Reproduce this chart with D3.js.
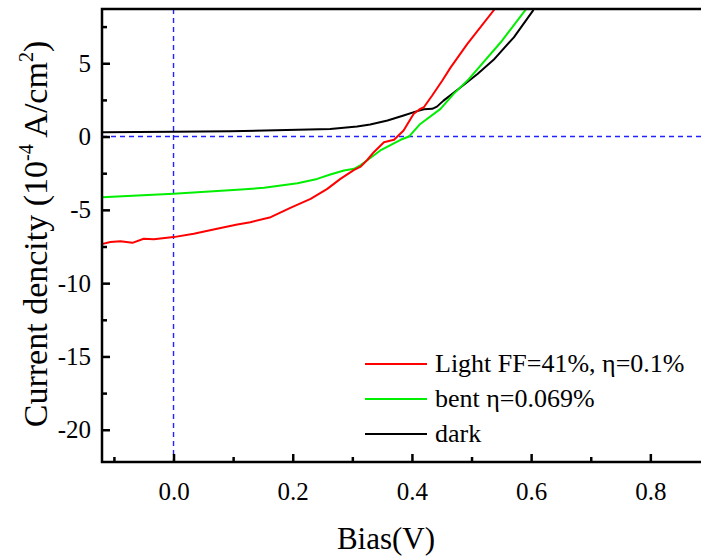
<!DOCTYPE html>
<html>
<head>
<meta charset="utf-8">
<script src="https://cdn.jsdelivr.net/npm/d3@7"></script>
<style>
  html, body { margin: 0; padding: 0; background: #fff; }
  svg { display: block; }
  svg text { font-family: "Liberation Serif", "Times New Roman", serif; fill: #000; }
</style>
</head>
<body>
<svg id="chart" width="701" height="558"></svg>
<script>
// J–V curves: bias (V) vs current density (1e-4 A/cm^2)
const lightV = [-0.123,-0.106,-0.089,-0.069,-0.05,-0.033,0,0.034,0.073,0.107,0.129,0.163,0.196,0.23,0.258,0.28,0.303,0.314,0.325,0.336,0.353,0.37,0.386,0.403,0.414,0.42,0.434,0.451,0.465,0.493,0.539];
const lightJ = [-7.36,-7.2,-7.14,-7.25,-6.97,-7.0,-6.86,-6.63,-6.29,-6.0,-5.84,-5.5,-4.86,-4.25,-3.57,-2.89,-2.27,-2.05,-1.6,-1.07,-0.39,-0.22,0.41,1.55,1.89,2.0,2.8,3.82,4.72,6.32,8.7];

const bentV = [-0.12,0,0.107,0.152,0.208,0.241,0.263,0.286,0.303,0.314,0.325,0.347,0.381,0.395,0.414,0.448,0.47,0.495,0.51,0.549,0.593];
const bentJ = [-4.14,-3.91,-3.63,-3.5,-3.18,-2.89,-2.59,-2.32,-2.2,-1.95,-1.62,-0.95,-0.22,0.0,0.86,1.89,2.91,3.9,4.6,6.43,8.77];

const darkV = [-0.12,0,0.096,0.208,0.263,0.308,0.33,0.359,0.386,0.406,0.42,0.434,0.442,0.453,0.476,0.51,0.537,0.571,0.604];
const darkJ = [0.29,0.32,0.36,0.46,0.52,0.68,0.82,1.09,1.43,1.7,1.86,1.89,2.04,2.45,3.18,4.27,5.23,6.77,8.64];

const seriesNames = ["Light FF=41%, \u03b7=0.1%", "bent \u03b7=0.069%", "dark"];
const seriesColors = ["#ff0000", "#00ee00", "#000000"];

const xMajor = [0.0, 0.2, 0.4, 0.6, 0.8];
const xMinor = [-0.1, 0.1, 0.3, 0.5, 0.7];
const yMajor = [-20, -15, -10, -5, 0, 5];
const yMinor = [-17.5, -12.5, -7.5, -2.5, 2.5, 7.5];

const L = 102, R = 701, T = 9, B = 462;
const FONT = "Liberation Serif";
const svg = d3.select("#chart");

const x = d3.scaleLinear().domain([-0.12, 0.885]).range([L, R]);
const y = d3.scaleLinear().domain([-22.2, 8.7]).range([B, T]);

svg.append("defs").append("clipPath").attr("id", "plotClip")
  .append("rect").attr("x", L).attr("y", T).attr("width", R - L).attr("height", B - T);

// reference lines at zero bias / zero current
svg.append("line")
  .attr("x1", L).attr("x2", R).attr("y1", y(0)).attr("y2", y(0))
  .attr("stroke", "#2222ff").attr("stroke-width", 1.4).attr("stroke-dasharray", "5,4");
svg.append("line")
  .attr("x1", x(0)).attr("x2", x(0)).attr("y1", T).attr("y2", B)
  .attr("stroke", "#2222ff").attr("stroke-width", 1.4).attr("stroke-dasharray", "5,4");

// curves
const line = d3.line().x(d => x(d[0])).y(d => y(d[1])).curve(d3.curveLinear);
const seriesData = [
  d3.zip(darkV, darkJ),
  d3.zip(bentV, bentJ),
  d3.zip(lightV, lightJ)
];
const drawColors = [seriesColors[2], seriesColors[1], seriesColors[0]];
const g = svg.append("g").attr("clip-path", "url(#plotClip)");
seriesData.forEach((d, i) => {
  g.append("path").datum(d).attr("d", line)
    .attr("fill", "none").attr("stroke", drawColors[i])
    .attr("stroke-width", 2).attr("stroke-linejoin", "round");
});

// axes (ticks pointing inward); plain hyphen for negative labels
const xAxis = d3.axisBottom(x).tickValues(xMajor).tickSize(-8).tickPadding(20)
  .tickFormat(d => d.toFixed(1));
const gx = svg.append("g").attr("transform", `translate(0,${B})`).call(xAxis)
  .attr("font-family", FONT).attr("font-size", 25);
gx.select(".domain").remove();
gx.selectAll(".tick line").attr("stroke", "#000").attr("stroke-width", 2.5);

const xAxisMinor = d3.axisBottom(x).tickValues(xMinor).tickSize(-5).tickFormat("");
const gxm = svg.append("g").attr("transform", `translate(0,${B})`).call(xAxisMinor);
gxm.select(".domain").remove();
gxm.selectAll(".tick line").attr("stroke", "#000").attr("stroke-width", 2.5);

const yAxis = d3.axisLeft(y).tickValues(yMajor).tickSize(-8).tickPadding(11)
  .tickFormat(d => String(d));
const gy = svg.append("g").attr("transform", `translate(${L},0)`).call(yAxis)
  .attr("font-family", FONT).attr("font-size", 25);
gy.select(".domain").remove();
gy.selectAll(".tick line").attr("stroke", "#000").attr("stroke-width", 2.5);

const yAxisMinor = d3.axisLeft(y).tickValues(yMinor).tickSize(-5).tickFormat("");
const gym = svg.append("g").attr("transform", `translate(${L},0)`).call(yAxisMinor);
gym.select(".domain").remove();
gym.selectAll(".tick line").attr("stroke", "#000").attr("stroke-width", 2.5);

// frame
svg.append("path")
  .attr("d", `M${R},${T}H${L}V${B}H${R}`)
  .attr("fill", "none").attr("stroke", "#000").attr("stroke-width", 2.5);

// axis titles
svg.append("text")
  .attr("x", 386).attr("y", 549)
  .attr("text-anchor", "middle").attr("font-size", 31)
  .text("Bias(V)");

const yt = svg.append("text")
  .attr("transform", "translate(47,234) rotate(-90)")
  .attr("text-anchor", "middle").attr("font-size", 34);
yt.append("tspan").text("Current dencity (10");
yt.append("tspan").attr("font-size", 20).attr("dy", -14).text("-4");
yt.append("tspan").attr("dy", 14).text(" A/cm");
yt.append("tspan").attr("font-size", 20).attr("dy", -14).text("2");
yt.append("tspan").attr("dy", 14).text(")");

// legend
const legend = svg.append("g");
const rowY = [364, 399, 434];
seriesNames.forEach((name, i) => {
  legend.append("line")
    .attr("x1", 365).attr("x2", 427).attr("y1", rowY[i]).attr("y2", rowY[i])
    .attr("stroke", seriesColors[i]).attr("stroke-width", 2);
  legend.append("text")
    .attr("x", 435).attr("y", rowY[i] + 8)
    .attr("font-size", 26)
    .text(name);
});
</script>
</body>
</html>
